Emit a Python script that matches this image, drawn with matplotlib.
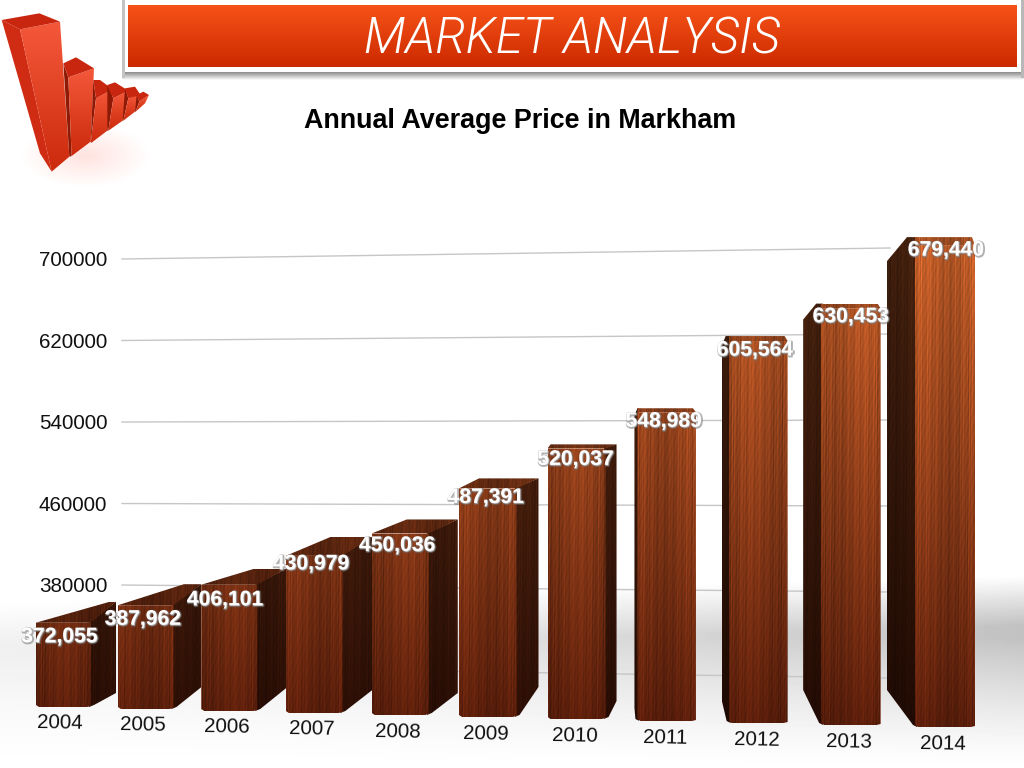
import matplotlib
matplotlib.use('Agg')
import matplotlib.pyplot as plt
import matplotlib.patheffects as pe
import numpy as np
from matplotlib.colors import LinearSegmentedColormap
from matplotlib.patches import Polygon, Rectangle

years = ['2004', '2005', '2006', '2007', '2008', '2009', '2010', '2011', '2012', '2013', '2014']
prices = [372055, 387962, 406101, 430979, 450036, 487391, 520037, 548989, 605564, 630453, 679440]
price_labels = ['372,055', '387,962', '406,101', '430,979', '450,036', '487,391', '520,037', '548,989', '605,564', '630,453', '679,440']
grid_values = [300000, 380000, 460000, 540000, 620000, 700000]

main_title = 'MARKET ANALYSIS'
chart_title = 'Annual Average Price in Markham'

# how the 3d bars lean, per bar
side_depth = [25, 28, 29, 30, 29, 22, 11, -3, -7, -18, -28]
side_drop = [-21, -21, -16, -19, -14, -10, -4, 3, 5, 11, 16]
top_rise = [21, 21, 16, 19, 14, 10, 4, 4, 5, 5, 8]
top_shift = [74, 66, 53, 45, 35, 20, 3, 0, -3, -5, -8]
bottom_rise = [14, 22, 23, 23, 22, 30, 18, 13, 23, 35, 37]
label_dx = [-4, -3, -4, -3, -3, -2, -1, -3, -3, 0, 1]
label_dy = [14, 14, 15, 8, 12, 9, 11, 9, 9, 8, 5]

base_value = 300000

# small red icon, top left
icon_tops = [
	[(5, 60), (118, 40), (180, 65), (60, 88)],
	[(190, 190), (228, 172), (282, 205), (205, 232)],
	[(280, 240), (300, 240), (338, 268), (288, 295)],
	[(322, 255), (345, 247), (385, 272), (340, 295)],
	[(375, 265), (405, 260), (422, 285), (385, 295)],
	[(410, 285), (430, 275), (447, 285), (418, 305)],
]
icon_fronts = [
	[(60, 88), (180, 65), (208, 470), (155, 515)],
	[(205, 232), (282, 205), (272, 425), (215, 468)],
	[(288, 295), (338, 268), (322, 392), (272, 430)],
	[(340, 295), (385, 272), (368, 362), (325, 392)],
	[(385, 295), (420, 282), (405, 335), (370, 362)],
	[(418, 305), (447, 285), (435, 310), (407, 335)],
]
icon_sides = [
	[(5, 60), (60, 88), (155, 515), (120, 460)],
	[(190, 190), (205, 232), (215, 468), (208, 470)],
	[(280, 240), (288, 295), (272, 430), (272, 425)],
	[(322, 255), (340, 295), (325, 392), (322, 392)],
	[(375, 265), (385, 295), (370, 362), (368, 362)],
	[(410, 285), (418, 305), (407, 335), (405, 335)],
]


def bar_left(i):
	return 36 + 81.3 * i + 0.66 * i * i

def bar_width(i):
	return 55 + 0.5 * i

def bar_base(i):
	return 707 + 2 * i

def bar_top(i):
	return bar_base(i) - (prices[i] - base_value) * (0.00117 + 0.00001 * i)

def grid_y(x, value):
	y0 = 259 + (700000 - value) * 0.0010188
	y1 = 248 + (700000 - value) * 0.001075
	return y0 + (x - 122) / 768 * (y1 - y0)

def wood_rgb(xs, ys, shade):
	t = np.clip((ys - 240) / 480, 0, 1)
	r = 190 - 100 * t
	g = 92 - 62 * t
	b = 40 - 29 * t
	s = 1 + 0.08 * np.sin(xs * 1.9 + 2 * np.sin(xs * 0.13) + ys * 0.012) + 0.07 * np.sin(xs * 2.9 + 1.2 + ys * 0.02) \
		+ 0.06 * np.sin(xs * 0.71 + ys * 0.006) + 0.05 * np.sin(xs * 2.3 + ys * 0.05) + 0.04 * np.sin(ys * 0.4 + xs * 1.3) \
		+ 0.08 * np.sin(xs * 0.11 + 0.7)
	img = np.dstack([r * s * shade, g * s * shade, b * s * shade]) / 255
	return np.clip(img, 0, 1)

def wood_patch(ax, points, shade, z):
	points = np.array(points, dtype=float)
	l, r = points[:, 0].min(), points[:, 0].max()
	t, b = points[:, 1].min(), points[:, 1].max()
	xs, ys = np.meshgrid(np.arange(l, r + 1, 1.0), np.arange(t, b + 1, 1.0))
	clip = Polygon(points, closed=True, fc='none', ec='none', zorder=z)
	ax.add_patch(clip)
	im = ax.imshow(wood_rgb(xs, ys, shade), extent=(l, r, b, t), origin='upper', aspect='auto', zorder=z, interpolation='bilinear')
	im.set_clip_path(clip)

def vertical_fill(ax, box, top_color, bottom_color, z, clip=None):
	cm = LinearSegmentedColormap.from_list('fill', [top_color, bottom_color])
	im = ax.imshow(np.linspace(0, 1, 128).reshape(-1, 1), extent=box, origin='upper', aspect='auto', cmap=cm, zorder=z)
	if clip is not None:
		im.set_clip_path(clip)

def draw_background(ax):
	xs, ys = np.meshgrid(np.linspace(0, 1, 256), np.arange(768))
	up = np.clip((ys - (600 - 25 * xs)) / 50, 0, 1)
	down = np.clip((768 - ys) / 130, 0, 1) ** 1.3
	gray = 1 - (0.07 + 0.17 * xs ** 1.5) * up * down
	ax.imshow(gray, extent=(0, 1024, 768, 0), origin='upper', aspect='auto', cmap='gray', vmin=0, vmax=1, zorder=0)

def draw_icon(ax):
	# soft pink floor shadow
	xs, ys = np.meshgrid(np.arange(20, 160), np.arange(110, 190))
	d = np.sqrt(((xs - 85) / 65.0) ** 2 + ((ys - 155) / 32.0) ** 2)
	img = np.ones(xs.shape + (4,))
	img[..., 1] = 0.6
	img[..., 2] = 0.55
	img[..., 3] = np.clip(1 - d, 0, 1) * 0.28
	ax.imshow(img, extent=(20, 160, 190, 110), origin='upper', aspect='auto', zorder=1)
	for k in range(len(icon_tops)):
		ax.add_patch(Polygon(np.array(icon_sides[k]) / 3, fc='#d02c14' if k == 0 else '#8e1a06', ec='none', zorder=2))
		front = np.array(icon_fronts[k]) / 3
		clip = Polygon(front, fc='none', ec='none', zorder=2)
		ax.add_patch(clip)
		vertical_fill(ax, (front[:, 0].min(), front[:, 0].max(), front[:, 1].max(), front[:, 1].min()), '#f4583a', '#cc2a0c', 2, clip)
		ax.add_patch(Polygon(np.array(icon_tops[k]) / 3, fc='#c9260f', ec='none', zorder=2))

def draw_banner(ax):
	vertical_fill(ax, (122, 1024, 80, 72), '#8a8a8a', '#ffffff', 3)
	ax.add_patch(Rectangle((122, 0), 3, 78, fc='#c4c4c4', ec='none', zorder=3))
	ax.add_patch(Rectangle((1021, 0), 3, 78, fc='#b8b8b8', ec='none', zorder=3))
	ax.add_patch(Rectangle((125, 0), 896, 72, fc='white', ec='none', zorder=4))
	vertical_fill(ax, (128, 1017, 67, 5), '#f65218', '#cc2a00', 5)
	ax.text(572, 40, main_title, color='white', fontsize=35.5, family='Roboto', fontweight=300, style='italic',
		ha='center', va='center', zorder=6)

def draw_bar(ax, i, z):
	l = bar_left(i)
	r = l + bar_width(i)
	t = bar_top(i)
	b = bar_base(i)
	d = side_depth[i]
	back = t - top_rise[i]
	if d > 0:
		side = [(r - 2, t), (r + d, t + side_drop[i]), (r + d, b - bottom_rise[i]), (r + 3, b - 2), (r - 2, b)]
		top = [(l, t), (l + top_shift[i], back), (r + d, back), (r, t)]
		wood_patch(ax, side, 0.46, z)
		wood_patch(ax, top, 0.72, z)
	else:
		side = [(l + 2, back), (l + top_shift[i], back), (l + d, t + side_drop[i]), (l + d, b - bottom_rise[i]), (l - 2, b - 2), (l + 2, b)]
		top = [(l, back), (r - 3, back), (r, t), (l, t)]
		wood_patch(ax, side, 0.36, z)
		wood_patch(ax, top, 0.85, z)
	front = [(l, t), (r, t), (r, b - 1), (r - 4, b), (l + 3, b), (l, b - 2)]
	wood_patch(ax, front, 1.0, z + 0.1)

fig = plt.figure(figsize=(10.24, 7.68), dpi=100)
ax = fig.add_axes([0, 0, 1, 1])

draw_background(ax)

for v in grid_values:
	ax.plot([122, 890], [grid_y(122, v), grid_y(890, v)], color='#c6c6c6', lw=1, zorder=1)
	ax.text(73, grid_y(122, v) + 1.5, str(v), fontsize=14.9, family='Liberation Sans', color='#111111', ha='center', va='center', zorder=1)

for i in range(len(prices)):
	draw_bar(ax, i, 10 + i)

shadow = [pe.Stroke(linewidth=1.6, foreground=(0.45, 0.45, 0.45, 0.55), offset=(0.6, -0.6)), pe.Normal()]
for i in range(len(prices)):
	cx = bar_left(i) + bar_width(i) / 2
	ax.text(cx + label_dx[i], bar_top(i) + label_dy[i], price_labels[i], color='white', fontsize=15.2, family='Liberation Sans',
		fontweight='bold', ha='center', va='center', zorder=30, path_effects=shadow)
	ax.text(60 + 82.1 * i + 0.62 * i * i, 723 + 2.1 * i, years[i], fontsize=14.9, family='Liberation Sans', color='#111111',
		ha='center', va='center', rotation=-1, zorder=30)

draw_icon(ax)
draw_banner(ax)

ax.text(520.5, 121, chart_title, fontsize=19.4, family='Liberation Sans', fontweight='bold', color='black', ha='center', va='center', zorder=30)

ax.set_xlim(0, 1024)
ax.set_ylim(768, 0)
ax.axis('off')

fig.savefig('out.png', dpi=100)
